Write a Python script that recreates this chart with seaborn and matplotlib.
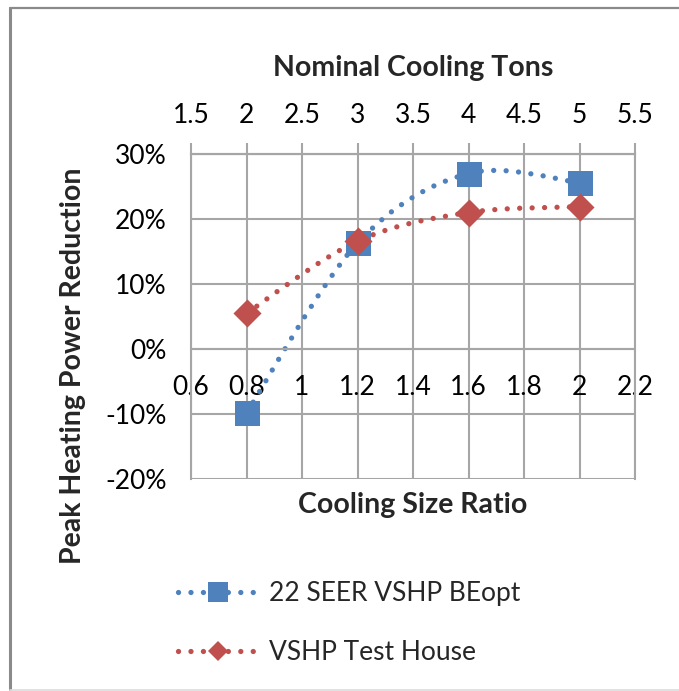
import numpy as np
import pandas as pd
import seaborn as sns
import matplotlib
matplotlib.use("Agg")
import matplotlib.pyplot as plt
from matplotlib.path import Path
from matplotlib.patches import PathPatch
from matplotlib.lines import Line2D

# ---- data -------------------------------------------------------------
size_ratio = [0.8, 1.2, 1.6, 2.0]
beopt_reduction = [-0.098, 0.163, 0.270, 0.256]
test_house_reduction = [0.055, 0.166, 0.210, 0.219]
series_names = ["22 SEER VSHP BEopt", "VSHP Test House"]

ratio_ticks = [0.6, 0.8, 1.0, 1.2, 1.4, 1.6, 1.8, 2.0, 2.2]
ton_ticks = [1.5, 2.0, 2.5, 3.0, 3.5, 4.0, 4.5, 5.0, 5.5]
pct_ticks = [-0.2, -0.1, 0.0, 0.1, 0.2, 0.3]
tons_per_ratio = 2.5

# ---- style ------------------------------------------------------------
sns.set_theme(style="white")
plt.rcParams["font.family"] = ["Lato", "DejaVu Sans"]

BLUE = "#4F81BD"
RED = "#C0504D"
GRID = "#a6a6a6"
W, H = 679, 691
DOT_LW = 3.8
DOTS = (0, (0.01, 2.35))
TICK_FS = 19
LABEL_FS = 20.5

df = pd.DataFrame({
    "ratio": size_ratio * 2,
    "reduction": beopt_reduction + test_house_reduction,
    "series": [series_names[0]] * len(size_ratio) + [series_names[1]] * len(size_ratio),
})

fig = plt.figure(figsize=(W / 100, H / 100), dpi=100)
fig.patch.set_facecolor("white")
left, right, top, bottom = 191, 635, 154, 479
ax = fig.add_axes([left / W, 1 - bottom / H, (right - left) / W, (bottom - top) / H])


def smooth_path(xs, ys):
    """Bezier path through the points, Catmull-Rom style smoothing."""
    pts = np.column_stack([xs, ys]).astype(float)
    n = len(pts)
    verts, codes = [pts[0]], [Path.MOVETO]
    for i in range(n - 1):
        p0 = pts[max(i - 1, 0)]
        p1 = pts[i]
        p2 = pts[i + 1]
        p3 = pts[min(i + 2, n - 1)]
        verts += [p1 + (p2 - p0) / 6, p2 - (p3 - p1) / 6, p2]
        codes += [Path.CURVE4] * 3
    return Path(verts, codes)


for name, color in zip(series_names, [BLUE, RED]):
    sub = df[df["series"] == name]
    ax.add_patch(PathPatch(smooth_path(sub["ratio"], sub["reduction"]),
                           facecolor="none", edgecolor=color, lw=DOT_LW,
                           linestyle=DOTS, capstyle="round", zorder=2))

sns.scatterplot(data=df[df["series"] == series_names[0]], x="ratio", y="reduction",
                marker="s", s=18 ** 2, color=BLUE, linewidth=0, ax=ax, zorder=3,
                legend=False)
sns.scatterplot(data=df[df["series"] == series_names[1]], x="ratio", y="reduction",
                marker="D", s=14.3 ** 2, color=RED, linewidth=0, ax=ax, zorder=3,
                legend=False)

# ---- axes -------------------------------------------------------------
for side, sp in ax.spines.items():
    sp.set_color(GRID)
    sp.set_linewidth(1.5)
ax.spines["bottom"].set_position(("data", 0))
ax.set_xlim(ratio_ticks[0], ratio_ticks[-1])
ax.set_ylim(pct_ticks[0], pct_ticks[-1])
ax.set_xticks(ratio_ticks)
ax.set_xticklabels([f"{v:g}" for v in ratio_ticks])
ax.set_yticks(pct_ticks)
ax.set_yticklabels([f"{v * 100:.0f}%" for v in pct_ticks])
ax.grid(True, color=GRID, lw=1.5)
ax.set_axisbelow(True)
ax.tick_params(axis="y", direction="out", length=8.5, width=1.5, color=GRID,
               pad=9, labelcolor="black", labelsize=TICK_FS)
ax.tick_params(axis="x", direction="out", length=8, width=1.5, color=GRID,
               pad=11, labelcolor="black", labelsize=TICK_FS)

sec = ax.secondary_xaxis("top", functions=(lambda r: r * tons_per_ratio,
                                           lambda t: t / tons_per_ratio))
sec.set_xticks(ton_ticks)
sec.set_xticklabels([f"{v:g}" for v in ton_ticks])
sec.tick_params(direction="out", length=8, width=1.5, color=GRID, pad=11,
                labelcolor="black", labelsize=TICK_FS)
sec.spines["top"].set_color(GRID)
sec.spines["top"].set_linewidth(1.5)

ax.set_xlabel("Cooling Size Ratio", fontsize=LABEL_FS, fontweight="bold")
ax.xaxis.set_label_coords(0.5, (bottom - 505) / (bottom - top))
ax.xaxis.label.set_va("center")
ax.set_ylabel("Peak Heating Power Reduction", fontsize=LABEL_FS, fontweight="bold")
ax.yaxis.set_label_coords((73 - left) / (right - left), (bottom - 366) / (bottom - top))
ax.yaxis.label.set_va("center")
sec.set_xlabel("Nominal Cooling Tons", fontsize=LABEL_FS, fontweight="bold")
sec.xaxis.set_label_coords(0.5, (bottom - 68) / (bottom - top), transform=ax.transAxes)
sec.xaxis.label.set_va("center")

# ---- legend -----------------------------------------------------------
handles = [
    Line2D([], [], color=BLUE, lw=DOT_LW, linestyle=DOTS, dash_capstyle="round",
           marker="s", markersize=14.5, markeredgewidth=0),
    Line2D([], [], color=RED, lw=DOT_LW, linestyle=DOTS, dash_capstyle="round",
           marker="D", markersize=10.5, markeredgewidth=0),
]
fig.legend(handles, series_names, loc="upper left",
           bbox_to_anchor=(178 / W, 1 - 581 / H), frameon=False,
           fontsize=TICK_FS, handlelength=3.0, handletextpad=0.45,
           labelspacing=1.3, borderpad=0, borderaxespad=0)

# ---- chart border -----------------------------------------------------
fig.add_artist(Line2D([9.5 / W, 9.5 / W], [1 - 8 / H, 1 - 689 / H],
                      transform=fig.transFigure, color="#8a8a8a", lw=2.2))
fig.add_artist(Line2D([9.5 / W, 1], [1 - 8 / H, 1 - 8 / H],
                      transform=fig.transFigure, color="#8a8a8a", lw=1.6))
fig.add_artist(Line2D([9.5 / W, 1], [1 - 689.5 / H, 1 - 689.5 / H],
                      transform=fig.transFigure, color="#dcdcdc", lw=1.2))

fig.savefig("out.png", dpi=100, facecolor="white")
